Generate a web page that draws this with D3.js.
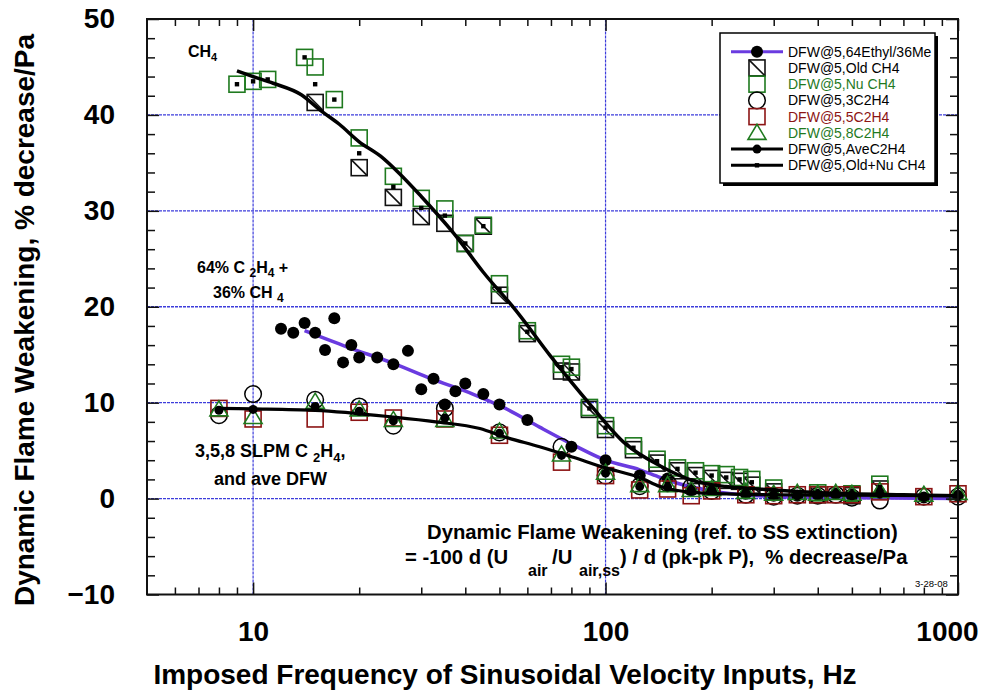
<!DOCTYPE html>
<html>
<head>
<meta charset="utf-8">
<script src="https://cdn.jsdelivr.net/npm/d3@7"></script>
<style>
  body { margin: 0; background: #fff; }
  text { font-family: "Liberation Sans", Arial, sans-serif; white-space: pre; }
</style>
</head>
<body>
<svg id="chart" width="987" height="696"></svg>
<script>
// ---- data ----
// 64% ethylene / 36% methane (big black dots + purple fit)
var ethylF = [12, 13, 14, 15, 16, 17, 18, 19, 20, 22.5, 25, 27.5, 30, 32.5, 35, 37.5, 40, 45, 50, 60, 80, 100, 125, 150, 175, 200, 250, 300, 350, 400, 450, 500, 600, 800, 1000];
var ethylV = [17.7, 17.3, 18.3, 17.3, 15.5, 18.8, 14.2, 16.0, 14.7, 14.7, 14.0, 15.4, 11.4, 12.5, 9.8, 11.2, 12.0, 10.9, 9.8, 8.2, 5.4, 4.0, 2.4, 2.1, 0.9, 0.9, 0.5, 0.3, 0.3, 0.4, 0.5, 0.3, 0.6, 0.1, 0.3];
var ethylFitF = [14, 18.5, 25, 32, 42, 52, 65, 81, 100, 125, 143, 160, 200, 270, 400, 1000];
var ethylFitV = [17.5, 15.8, 14.1, 12.5, 10.9, 9.4, 7.45, 5.6, 4.0, 3.0, 2.2, 1.6, 0.8, 0.3, 0.1, 0.0];

// methane, old and new runs
var oldF = [15, 20, 25, 30, 35, 40, 45, 50, 60, 75, 80, 90, 100, 120, 140, 160, 180, 200, 220, 240, 260, 300, 400, 500, 600];
var oldV = [41.3, 34.5, 31.4, 29.4, 28.7, 26.6, 28.4, 21.2, 17.2, 13.3, 13.2, 9.3, 7.2, 5.1, 3.7, 2.9, 2.4, 2.1, 1.9, 1.8, 1.4, 0.7, 0.4, 0.3, 1.0];
var nuF = [9, 10, 11, 14, 15, 17, 20, 25, 30, 35, 40, 45, 50, 60, 75, 80, 90, 100, 120, 140, 160, 180, 200, 220, 240, 260, 300, 400, 500, 600];
var nuV = [43.2, 43.5, 43.7, 46.0, 45.0, 41.6, 37.6, 33.6, 31.3, 30.2, 26.6, 28.5, 22.4, 17.5, 14.0, 13.7, 9.5, 7.6, 5.5, 4.1, 3.2, 2.9, 2.6, 2.5, 2.2, 2.0, 1.1, 0.6, 0.5, 1.5];
var ch4AvgV = [43.2, 43.5, 43.7, 46.0, 43.2, 41.6, 36.0, 32.5, 30.3, 29.5, 26.6, 28.4, 21.8, 17.4, 13.7, 13.5, 9.4, 7.4, 5.3, 3.9, 3.1, 2.7, 2.4, 2.2, 2.0, 1.7, 0.9, 0.5, 0.4, 1.2];
var ch4FitF = [9, 10, 11.4, 13.7, 15.5, 17.6, 20, 23, 26, 30, 37, 45, 56, 70, 90, 114, 143, 176, 220, 272, 340, 500, 700, 1000];
var ch4FitV = [44.6, 44.0, 43.3, 42.1, 40.5, 39.0, 37.2, 35.7, 33.9, 31.5, 27.7, 23.6, 19.5, 14.8, 9.9, 5.7, 3.4, 1.9, 1.25, 1.0, 0.76, 0.5, 0.4, 0.3];

// ethylene at 3, 5, 8 SLPM and their average
var c2h4F = [8, 10, 15, 20, 25, 35, 50, 75, 100, 125, 150, 175, 200, 250, 300, 350, 400, 450, 500, 600, 800, 1000];
var c3V = [8.7, 10.9, 10.3, 9.6, 7.6, 9.4, 6.9, 5.4, 2.4, 1.3, 1.6, 1.2, 0.8, 0.4, 0.2, 0.3, 0.3, 0.4, 0.1, -0.2, 0.2, 0.2];
var c5V = [9.4, 8.3, 8.3, 9.0, 8.4, 8.3, 6.6, 3.8, 2.4, 0.9, 1.0, 0.3, 0.8, 0.4, 0.3, 0.4, 0.4, 0.4, 0.4, 0.7, 0.2, 0.5];
var c8V = [9.3, 8.5, 10.1, 9.3, 8.2, 8.2, 7.0, 4.6, 2.7, 1.4, 1.4, 0.9, 1.0, 0.7, 0.5, 0.6, 0.5, 0.6, 0.5, 0.8, 0.4, 0.6];
var aveV = [9.2, 9.3, 9.6, 9.1, 8.1, 8.4, 6.8, 4.5, 2.65, 1.25, 1.2, 0.9, 0.9, 0.6, 0.4, 0.3, 0.4, 0.5, 0.3, 0.5, 0.1, 0.3];
var aveFitF = [8, 10, 15, 25, 33, 44, 52, 65, 81, 100, 125, 143, 176, 220, 300, 500, 1000];
var aveFitV = [9.4, 9.35, 9.2, 8.5, 8.0, 7.3, 6.4, 5.4, 4.3, 3.2, 2.2, 1.25, 0.65, 0.5, 0.4, 0.35, 0.3];

var xMajor = [10, 100, 1000];
var xMinor = [6, 7, 8, 9, 20, 30, 40, 50, 60, 70, 80, 90, 200, 300, 400, 500, 600, 700, 800, 900];
var yMajor = [-10, 0, 10, 20, 30, 40, 50];
var yMinor = [-8, -6, -4, -2, 2, 4, 6, 8, 12, 14, 16, 18, 22, 24, 26, 28, 32, 34, 36, 38, 42, 44, 46, 48];
var gridX = [10, 100];
var gridY = [0, 10, 20, 30, 40];

var legendNames = ["DFW@5,64Ethyl/36Me", "DFW@5,Old CH4", "DFW@5,Nu CH4", "DFW@5,3C2H4", "DFW@5,5C2H4", "DFW@5,8C2H4", "DFW@5,AveC2H4", "DFW@5,Old+Nu CH4"];

var green = "#1f7a1f", red = "#8c1414", purple = "#6a3be0", gridBlue = "#3d3ddb";

function zip(f, v) {
  return f.map(function(d, i) { return { f: d, v: v[i] }; });
}

var svg = d3.select("#chart");
var x = d3.scaleLog().domain([5, 1000]).range([147, 958]);
var y = d3.scaleLinear().domain([-10, 50]).range([594.5, 19]);

// grid
svg.append("g").selectAll("line").data(gridY).enter().append("line")
  .attr("x1", x(5)).attr("x2", x(1000))
  .attr("y1", function(d) { return y(d); }).attr("y2", function(d) { return y(d); })
  .attr("stroke", gridBlue).attr("stroke-width", 1.4).attr("stroke-dasharray", "3,1");
svg.append("g").selectAll("line").data(gridX).enter().append("line")
  .attr("y1", y(-10)).attr("y2", y(50))
  .attr("x1", function(d) { return x(d); }).attr("x2", function(d) { return x(d); })
  .attr("stroke", gridBlue).attr("stroke-width", 1.2).attr("stroke-dasharray", "3,1");

// ---- markers ----
function square(g, data, color, diag) {
  var s = g.selectAll(null).data(data).enter().append("g")
    .attr("transform", function(d) { return "translate(" + x(d.f) + "," + y(d.v) + ")"; });
  s.append("rect").attr("x", -8).attr("y", -8).attr("width", 16).attr("height", 16)
    .attr("fill", "none").attr("stroke", color).attr("stroke-width", 1.6);
  if (diag) s.append("line").attr("x1", -8).attr("y1", -8).attr("x2", 8).attr("y2", 8)
    .attr("stroke", color).attr("stroke-width", 1.6);
}
function circle(g, data, r, fill, stroke) {
  g.selectAll(null).data(data).enter().append("circle")
    .attr("cx", function(d) { return x(d.f); }).attr("cy", function(d) { return y(d.v); })
    .attr("r", r).attr("fill", fill).attr("stroke", stroke).attr("stroke-width", 1.5);
}
function triangle(g, data, color) {
  g.selectAll(null).data(data).enter().append("path")
    .attr("transform", function(d) { return "translate(" + x(d.f) + "," + y(d.v) + ")"; })
    .attr("d", "M0,-8.5L9,6.5L-9,6.5Z")
    .attr("fill", "none").attr("stroke", color).attr("stroke-width", 1.6);
}
function dotSquare(g, data) {
  g.selectAll(null).data(data).enter().append("rect")
    .attr("x", function(d) { return x(d.f) - 2.2; }).attr("y", function(d) { return y(d.v) - 2.2; })
    .attr("width", 4.4).attr("height", 4.4).attr("fill", "#000");
}
var line = d3.line().x(function(d) { return x(d.f); }).y(function(d) { return y(d.v); })
  .curve(d3.curveMonotoneX);

var plot = svg.append("g");
// series in legend order
plot.append("path").datum(zip(ethylFitF, ethylFitV)).attr("d", line)
  .attr("fill", "none").attr("stroke", purple).attr("stroke-width", 3.5);
circle(plot.append("g"), zip(ethylF, ethylV), 6, "#000", "none");
square(plot.append("g"), zip(oldF, oldV), "#111", true);
square(plot.append("g"), zip(nuF, nuV), green, false);
circle(plot.append("g"), zip(c2h4F, c3V), 8.3, "none", "#000");
square(plot.append("g"), zip(c2h4F, c5V), red, false);
triangle(plot.append("g"), zip(c2h4F, c8V), green);
plot.append("path").datum(zip(aveFitF, aveFitV)).attr("d", line)
  .attr("fill", "none").attr("stroke", "#000").attr("stroke-width", 3.2);
circle(plot.append("g"), zip(c2h4F, aveV), 4.5, "#000", "none");
plot.append("path").datum(zip(ch4FitF, ch4FitV)).attr("d", line)
  .attr("fill", "none").attr("stroke", "#000").attr("stroke-width", 3.5);
dotSquare(plot.append("g"), zip(nuF, ch4AvgV));

// ---- axes (ticks point inward) ----
function styleAxis(g) {
  g.select(".domain").remove();
  g.selectAll("line").attr("stroke", "#111").attr("stroke-width", 1.5);
  g.selectAll("text").attr("font-size", 28).attr("font-weight", "bold").attr("fill", "#000");
}
svg.append("g").attr("transform", "translate(0," + y(-10) + ")")
  .call(d3.axisBottom(x).tickValues(xMajor).tickSizeInner(-12).tickPadding(27).tickFormat(d3.format("d")))
  .call(styleAxis)
  .call(function(g) { g.selectAll("text").filter(function(d) { return d === 1000; }).attr("dx", -11); });
svg.append("g").attr("transform", "translate(0," + y(-10) + ")")
  .call(d3.axisBottom(x).tickValues(xMinor).tickSizeInner(-7).tickFormat("")).call(styleAxis);
svg.append("g").attr("transform", "translate(0," + y(50) + ")")
  .call(d3.axisTop(x).tickValues(xMajor).tickSizeInner(-12).tickFormat("")).call(styleAxis);
svg.append("g").attr("transform", "translate(0," + y(50) + ")")
  .call(d3.axisTop(x).tickValues(xMinor).tickSizeInner(-7).tickFormat("")).call(styleAxis);
svg.append("g").attr("transform", "translate(" + x(5) + ",0)")
  .call(d3.axisLeft(y).tickValues(yMajor).tickSizeInner(-12).tickPadding(32))
  .call(styleAxis);
svg.append("g").attr("transform", "translate(" + x(5) + ",0)")
  .call(d3.axisLeft(y).tickValues(yMinor).tickSizeInner(-8).tickFormat("")).call(styleAxis);
svg.append("g").attr("transform", "translate(" + x(1000) + ",0)")
  .call(d3.axisRight(y).tickValues(yMajor).tickSizeInner(-12).tickFormat("")).call(styleAxis);
svg.append("g").attr("transform", "translate(" + x(1000) + ",0)")
  .call(d3.axisRight(y).tickValues(yMinor).tickSizeInner(-8).tickFormat("")).call(styleAxis);

svg.append("rect").attr("x", x(5)).attr("y", y(50))
  .attr("width", x(1000) - x(5)).attr("height", y(-10) - y(50))
  .attr("fill", "none").attr("stroke", "#111").attr("stroke-width", 2);

// axis titles
svg.append("text").attr("transform", "translate(34,320) rotate(-90)")
  .attr("text-anchor", "middle").attr("font-size", 28).attr("font-weight", "bold")
  .text("Dynamic Flame Weakening, % decrease/Pa");
svg.append("text").attr("x", 505).attr("y", 684)
  .attr("text-anchor", "middle").attr("font-size", 28).attr("font-weight", "bold")
  .text("Imposed Frequency of Sinusoidal Velocity Inputs, Hz");

// ---- annotations ----
function label(px, py, size, parts) {
  var t = svg.append("text").attr("x", px).attr("y", py)
    .attr("font-size", size).attr("font-weight", "bold");
  parts.forEach(function(p) {
    var s = t.append("tspan").text(p[0]);
    if (p[1]) s.attr("dy", p[1]);
    if (p[2]) s.attr("font-size", p[2]);
    if (p[3] !== undefined) s.attr("x", p[3]);
  });
  return t;
}
label(188, 57, 16, [["CH"], ["4", 4, 11], ["", -4]]);
label(197, 273, 16, [["64% C "], ["2", 4, 12], ["H", -4], ["4", 4, 12], [" +", -4]]);
label(213, 298, 16, [["36% CH "], ["4", 4, 12]]);
label(195, 457, 18, [["3,5,8 SLPM C "], ["2", 5, 13], ["H", -5], ["4", 5, 13], [",", -5]]);
label(214, 485, 18, [["and ave DFW"]]);
label(427, 539, 20.3, [["Dynamic Flame Weakening (ref. to SS extinction)"]]);
label(405, 564, 20.3, [["= -100 d (U"], ["air", 12, 16, 528], ["/U", -12, null, 552], ["air,ss", 12, 16, 579],
  [") / d (pk-pk P),  % decrease/Pa", -12, null, 620]]);
svg.append("text").attr("x", 915).attr("y", 587).attr("font-size", 9.5).text("3-28-08");

// ---- legend ----
var lg = svg.append("g");
lg.append("rect").attr("x", 723).attr("y", 36).attr("width", 215).attr("height", 150).attr("fill", "#000");
lg.append("rect").attr("x", 720).attr("y", 33).attr("width", 215).attr("height", 150)
  .attr("fill", "#fff").attr("stroke", "#000").attr("stroke-width", 1.5);
var rowY = function(i) { return 51.7 + i * 16.23; };
var mx = 757;
var legendColors = ["#000", "#000", green, "#000", red, green, "#000", "#000"];
lg.selectAll("text").data(legendNames).enter().append("text")
  .attr("x", 788).attr("y", function(d, i) { return rowY(i); }).attr("dy", "0.36em")
  .attr("font-size", 14).attr("fill", function(d, i) { return legendColors[i]; })
  .text(function(d) { return d; });
function legLine(i, color, w) {
  lg.append("line").attr("x1", 731).attr("x2", 783).attr("y1", rowY(i)).attr("y2", rowY(i))
    .attr("stroke", color).attr("stroke-width", w);
}
legLine(0, purple, 3);
lg.append("circle").attr("cx", mx).attr("cy", rowY(0)).attr("r", 6).attr("fill", "#000");
lg.append("rect").attr("x", mx - 8).attr("y", rowY(1) - 8).attr("width", 16).attr("height", 16)
  .attr("fill", "none").attr("stroke", "#111").attr("stroke-width", 1.6);
lg.append("line").attr("x1", mx - 8).attr("y1", rowY(1) - 8).attr("x2", mx + 8).attr("y2", rowY(1) + 8)
  .attr("stroke", "#111").attr("stroke-width", 1.6);
lg.append("rect").attr("x", mx - 8).attr("y", rowY(2) - 8).attr("width", 16).attr("height", 16)
  .attr("fill", "none").attr("stroke", green).attr("stroke-width", 1.6);
lg.append("circle").attr("cx", mx).attr("cy", rowY(3)).attr("r", 8.3)
  .attr("fill", "none").attr("stroke", "#000").attr("stroke-width", 1.5);
lg.append("rect").attr("x", mx - 8).attr("y", rowY(4) - 8).attr("width", 16).attr("height", 16)
  .attr("fill", "none").attr("stroke", red).attr("stroke-width", 1.6);
lg.append("path").attr("transform", "translate(" + mx + "," + rowY(5) + ")")
  .attr("d", "M0,-8.5L9,6.5L-9,6.5Z").attr("fill", "none").attr("stroke", green).attr("stroke-width", 1.6);
legLine(6, "#000", 3);
lg.append("circle").attr("cx", mx).attr("cy", rowY(6)).attr("r", 4.5).attr("fill", "#000");
legLine(7, "#000", 3);
lg.append("rect").attr("x", mx - 2.2).attr("y", rowY(7) - 2.2).attr("width", 4.4).attr("height", 4.4).attr("fill", "#000");
</script>
</body>
</html>
